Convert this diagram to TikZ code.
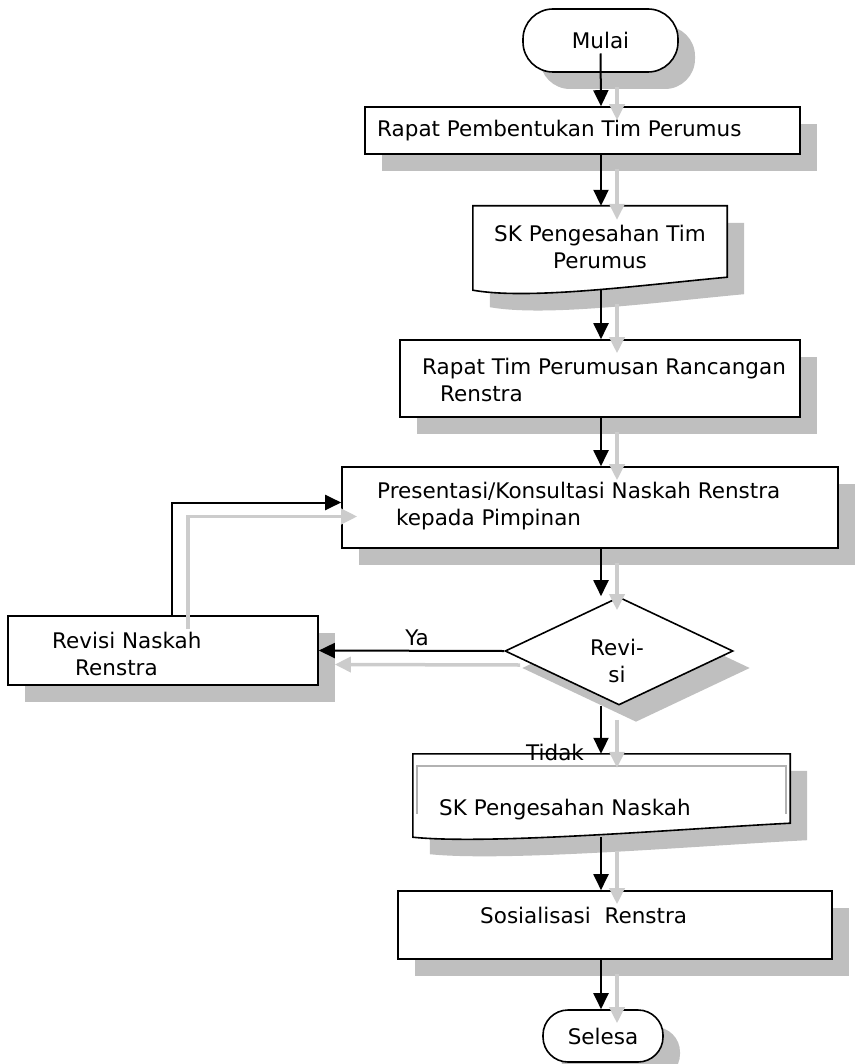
\documentclass[tikz,border=0pt]{standalone}
\usepackage{fontspec}
\setmainfont{DejaVu Sans}
\usetikzlibrary{shapes.geometric,arrows.meta,shadows,calc}

\tikzset{
  box/.style={draw, line width=1.6pt, fill=white, inner sep=0pt,
    drop shadow={shadow xshift=17pt, shadow yshift=-17pt, fill=gray!50, opacity=1}},
  doc/.style={inner sep=0pt},
  docline/.style={draw, line width=1.6pt, fill=white,
    drop shadow={shadow xshift=17pt, shadow yshift=-17pt, fill=gray!50, opacity=1}},
  txt/.style={inner sep=0pt, font=\fontsize{21.5}{27}\selectfont, align=left},
  arr/.style={line width=2pt, -{Triangle[length=16pt,width=15pt]}},
  shd/.style={gray!40, line width=3.5pt, -{Triangle[length=16pt,width=15pt]},
    transform canvas={xshift=16pt,yshift=-14pt}},
}

\begin{document}
\begin{tikzpicture}[x=1pt,y=-1pt]
\useasboundingbox (0,0) rectangle (865,1064);

\coordinate (ax) at (601,0);
\coordinate (lp) at (172,0);

% boxes
\node[box, rounded corners=30pt, minimum width=155pt, minimum height=63pt,
  font=\fontsize{21.5}{27}\selectfont] (mulai) at (600.5,40.5) {Mulai};
\node[box, minimum width=435pt, minimum height=47pt] (b1) at (582.5,130.5) {};

\node[doc, minimum width=254pt, minimum height=84pt] (sk1) at (600,248) {};
\draw[docline] (sk1.north west) -- (sk1.north east) -- ($(sk1.south east)+(0,-13)$)
  .. controls ($(sk1.south east)+(-87,-5)$) and ($(sk1.south west)+(57,10)$) .. (sk1.south west) -- cycle;

\node[box, minimum width=400pt, minimum height=77pt] (b3) at (600,378.5) {};
\node[box, minimum width=496pt, minimum height=81pt] (b4) at (590,507.5) {};
\node[box, diamond, minimum width=228pt, minimum height=108pt] (rev) at (619,651) {};
\node[box, minimum width=310pt, minimum height=69pt] (rvs) at (163,650.5) {};

\node[doc, minimum width=377pt, minimum height=83pt] (sk2) at (601.5,795.5) {};
\draw[docline] (sk2.north west) -- (sk2.north east) -- ($(sk2.south east)+(0,-14)$)
  .. controls ($(sk2.south east)+(-100,-9)$) and ($(sk2.south west)+(77,8)$) .. (sk2.south west) -- cycle;
\draw[gray!60, line width=2pt] ($(sk2.north west)+(4,60)$) -- ($(sk2.north west)+(4,12)$)
  -- ($(sk2.north east)+(-4,12)$) -- ($(sk2.north east)+(-4,60)$);

\node[box, minimum width=434pt, minimum height=68pt] (sos) at (615,925) {};
\node[box, rounded corners=25pt, minimum width=120pt, minimum height=52pt,
  font=\fontsize{21.5}{27}\selectfont] (selesa) at (603,1036) {Selesa};

% texts
\node[txt, anchor=west] (t1) at (377,131) {Rapat Pembentukan Tim Perumus};
\node[txt, align=center] (t2) at (600,247) {SK Pengesahan Tim\\Perumus};
\node[txt, anchor=west] (t3) at (422,379.5) {Rapat Tim Perumusan Rancangan\\\hspace*{18pt}Renstra};
\node[txt, anchor=west] (t4) at (377,506.5) {Presentasi/Konsultasi Naskah Renstra\\\hspace*{19pt}kepada Pimpinan};
\node[txt, align=center] (t5) at (617,661) {Revi-\\si};
\node[txt, anchor=west] (t6) at (52,654) {Revisi Naskah\\\hspace*{23pt}Renstra};
\node[txt, anchor=west] (t7) at (439,810) {SK Pengesahan Naskah};
\node[txt, anchor=west] (t8) at (480,915) {Sosialisasi\ \ Renstra};

% shadow arrows
\draw[shd] (mulai.south -| ax) -- (b1.north -| ax);
\draw[shd] (b1.south -| ax) -- (sk1.north -| ax);
\draw[shd] (sk1.south -| ax) -- (b3.north -| ax);
\draw[shd] (b3.south -| ax) -- (b4.north -| ax);
\draw[shd] (b4.south -| ax) -- (rev.north -| ax);
\draw[shd] (rev.south -| ax) -- (sk2.north -| ax);
\draw[shd] (sk2.south -| ax) -- (sos.north -| ax);
\draw[shd] (sos.south -| ax) -- (selesa.north -| ax);
\draw[shd] (rev.west) -- (rvs.east);
\draw[shd] (rvs.north -| lp) |- ([yshift=5pt]b4.west);

% arrows
\draw[arr] ($(mulai.center)+(0,13)$) -- (b1.north -| ax);
\draw[arr] (b1.south -| ax) -- (sk1.north -| ax);
\draw[arr] (sk1.south -| ax) -- (b3.north -| ax);
\draw[arr] (b3.south -| ax) -- (b4.north -| ax);
\draw[arr] (b4.south -| ax) -- (rev.north -| ax);
\draw[arr] (rev.south -| ax) -- (sk2.north -| ax);
\draw[arr] (sk2.south -| ax) -- (sos.north -| ax);
\draw[arr] (sos.south -| ax) -- (selesa.north -| ax);
\draw[arr] (rev.west) -- node[txt, above=4pt, pos=.47] (ya) {Ya} (rvs.east);
\draw[arr] (rvs.north -| lp) |- ([yshift=5pt]b4.west);

\node[txt] (tdk) at (555,752) {Tidak};

\end{tikzpicture}
\end{document}
